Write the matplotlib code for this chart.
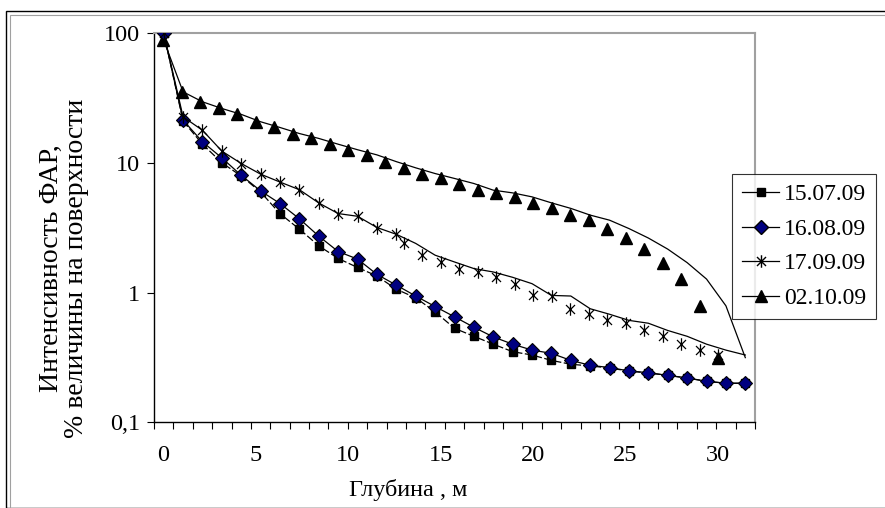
import matplotlib
matplotlib.use('Agg')
import matplotlib.pyplot as plt
from matplotlib.lines import Line2D
from matplotlib.path import Path
from matplotlib.patches import Rectangle

plt.rcParams['font.family'] = ['Liberation Serif', 'DejaVu Serif']

# Series labels (dates of measurement)
labels = ['15.07.09', '16.08.09', '17.09.09', '02.10.09']

# Category index of each sounding step (line chart part)
steps = list(range(31))
# Depth, m (scatter part)
depths = list(range(31))
depth_ticks = [0, 5, 10, 15, 20, 25, 30]
y_ticks = [0.1, 1, 10, 100]
y_ticklabels = ['0,1', '1', '10', '100']

# PAR intensity, % of surface value
jul = [100, 21, 13.9, 10.0, 7.9, 5.95, 4.05, 3.08, 2.29, 1.83, 1.56,
       1.34, 1.06, 0.91, 0.71, 0.53, 0.46, 0.40, 0.35, 0.33, 0.30,
       0.28, 0.272, 0.262, 0.248, 0.240, 0.230, 0.219, 0.207, 0.200, 0.200]
aug = [100, 21.3, 14.5, 10.9, 8.0, 6.07, 4.85, 3.7, 2.72, 2.07, 1.81,
       1.38, 1.14, 0.94, 0.78, 0.65, 0.54, 0.455, 0.40, 0.36, 0.34,
       0.30, 0.275, 0.264, 0.249, 0.241, 0.230, 0.220, 0.207, 0.200, 0.200]
sep = [100, 22.6, 17.8, 12.3, 9.87, 8.17, 7.1, 6.2, 4.9, 4.06, 3.87,
       3.17, 2.81, 2.39, 1.94, 1.72, 1.53, 1.44, 1.31, 1.17, 0.95,
       0.94, 0.75, 0.68, 0.61, 0.58, 0.51, 0.46, 0.40, 0.36, 0.33]
octo = [88, 35.2, 29.5, 26.2, 23.6, 20.7, 18.7, 16.8, 15.4, 13.9, 12.6,
        11.5, 10.2, 9.14, 8.26, 7.57, 6.92, 6.15, 5.86, 5.46, 4.91,
        4.45, 3.95, 3.61, 3.11, 2.63, 2.16, 1.70, 1.27, 0.79, 0.315]
# first points of 17.09.09 sit on the category axis, the rest on depth
sep_split = 13

# Excel-like asterisk marker: vertical bar plus a cross
star = Path([(0, -1), (0, 1), (-0.72, -0.72), (0.72, 0.72),
             (-0.72, 0.72), (0.72, -0.72)],
            [Path.MOVETO, Path.LINETO, Path.MOVETO, Path.LINETO,
             Path.MOVETO, Path.LINETO])

fig = plt.figure(figsize=(8.85, 5.08), dpi=100)

# outer chart frame
fig.patches.append(Rectangle((6 / 885, 0.0), 1.0, 1 - 11 / 508,
                             transform=fig.transFigure, fill=False,
                             edgecolor='black', linewidth=1.0))
fig.patches.append(Rectangle((10 / 885, 0.0), 1.0, 1 - 15 / 508,
                             transform=fig.transFigure, fill=False,
                             edgecolor='#a0a0a0', linewidth=0.8))

ax = fig.add_axes([154 / 885, 1 - 422.3 / 508, 601 / 885, 389.3 / 508])
ax.set_yscale('log')
ax.set_ylim(0.1, 100)
ax.set_xlim(-0.5, 32)
ax.set_yticks(y_ticks)
ax.set_yticklabels(y_ticklabels)
ax.minorticks_off()
ax.set_xticks(depth_ticks)
ax.tick_params(axis='x', length=0, pad=16.5, labelsize=17.5)
ax.tick_params(axis='y', direction='out', length=5, width=0.8, pad=5,
               labelsize=17.5)
for side in ('left', 'bottom'):
    ax.spines[side].set_color('black')
    ax.spines[side].set_linewidth(1.0)
for side in ('top', 'right'):
    ax.spines[side].set_color('#a0a0a0')
    ax.spines[side].set_linewidth(1.5)

# category axis carrying the lines
axc = ax.twiny()
axc.set_xlim(-0.5, 30.5)
axc.xaxis.tick_bottom()
axc.set_xticks([s - 0.5 for s in steps] + [30.5])
axc.set_xticklabels([])
axc.tick_params(axis='x', direction='out', length=5, width=0.8)
for side in axc.spines:
    axc.spines[side].set_visible(False)

lw = 0.9
axc.plot(steps, jul, color='black', lw=lw, ls=(0, (6, 2)), marker='s',
         ms=5.8, mfc='black', mec='black')
axc.plot(steps, aug, color='black', lw=lw, marker='D', ms=7.2,
         mfc='#000080', mec='black', mew=0.8)
axc.plot(steps, sep, color='black', lw=lw)
axc.plot(steps[:sep_split], sep[:sep_split], ls='none', marker=star,
         ms=9, mfc='none', mec='black', mew=0.9)
axc.plot(steps, octo, color='black', lw=lw)
ax.plot(depths[sep_split:], sep[sep_split:], ls='none', marker=star,
        ms=9, mfc='none', mec='black', mew=0.9)
ax.plot(depths, octo, ls='none', marker='^', ms=9, mfc='black',
        mec='black')

fig.text(408 / 885, 1 - 496 / 508, 'Глубина , м', fontsize=17.5,
         ha='center', va='baseline')
fig.text(64 / 885, 1 - 268 / 508,
         'Интенсивность ФАР,\n% величины на поверхности',
         fontsize=20, rotation=90, ha='center', va='center',
         multialignment='center', linespacing=1.0)

handles = [
    Line2D([], [], color='black', lw=lw, marker='s', ms=5.8),
    Line2D([], [], color='black', lw=lw, marker='D', ms=7.2,
           mfc='#000080', mec='black'),
    Line2D([], [], color='black', lw=lw, marker=star, ms=9, mfc='none',
           mec='black'),
    Line2D([], [], color='black', lw=lw, marker='^', ms=9),
]
leg = ax.legend(handles, labels, loc='upper left',
                bbox_to_anchor=(731.7 / 885, 1 - 174 / 508),
                bbox_transform=fig.transFigure, borderaxespad=0,
                fontsize=17, handlelength=1.6, handletextpad=0.2,
                labelspacing=0.55, borderpad=0.42, frameon=True,
                fancybox=False)
leg.get_frame().set_edgecolor('black')
leg.get_frame().set_linewidth(0.8)
# keep legend above the twin axes
leg.remove()
axc.add_artist(leg)

fig.savefig('out.png', dpi=100)
